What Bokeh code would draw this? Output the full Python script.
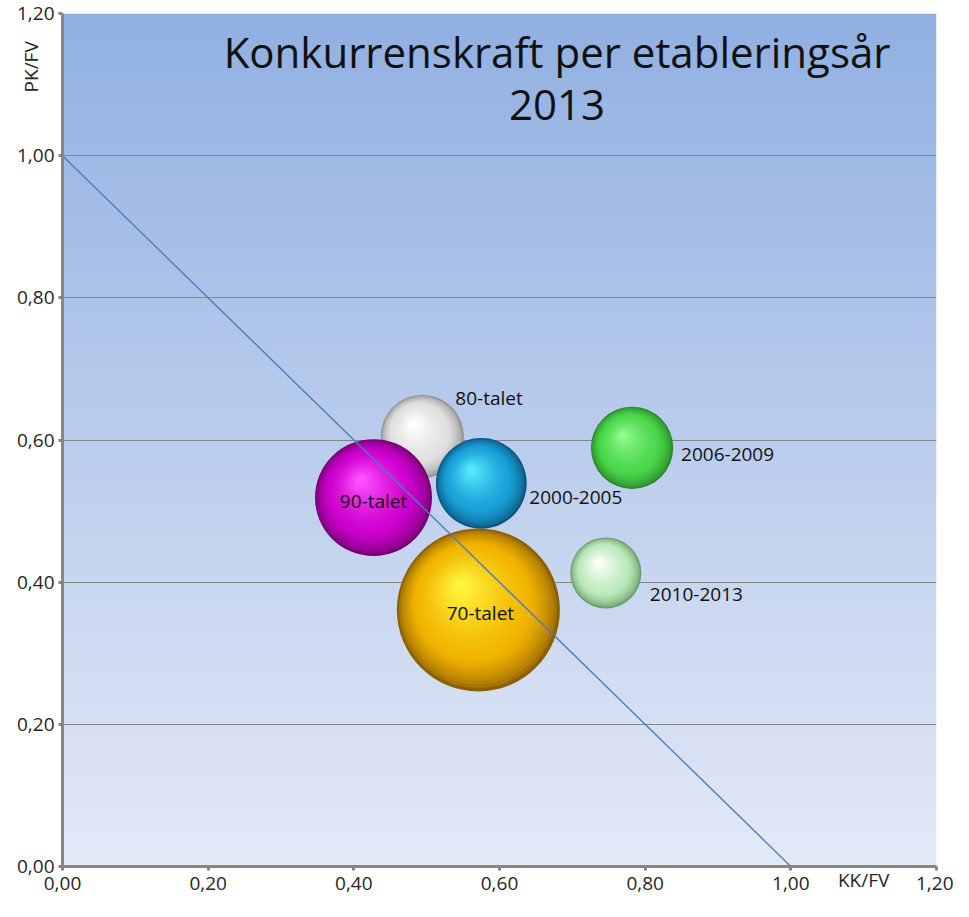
import numpy as np
from bokeh.plotting import figure
from bokeh.models import (ColumnDataSource, Label, FixedTicker, CustomJSTickFormatter,
                          LinearAxis)
from bokeh.embed import file_html
from bokeh.resources import INLINE
from bokeh.core.properties import value

# ---------------- data ----------------
groups = ["80-talet", "90-talet", "2000-2005", "70-talet", "2006-2009", "2010-2013"]
kk_fv = [0.494, 0.427, 0.575, 0.571, 0.782, 0.746]   # x
pk_fv = [0.605, 0.519, 0.539, 0.361, 0.589, 0.413]   # y
bubble_size = [26.0, 51.5, 31.0, 100.0, 25.5, 19.0]  # relative area
ticks = [0.0, 0.2, 0.4, 0.6, 0.8, 1.0, 1.2]
ref_x = [0.0, 1.0]
ref_y = [1.0, 0.0]
title_lines = ["Konkurrenskraft per etableringsår", "2013"]
x_title, y_title = "KK/FV", "PK/FV"
x_title_pos, y_title_pos = 1.10, 1.125

# ---------------- style ----------------
FONT = "Open Sans"
W, H = 953, 901
BL, BR, BT, BB = 62, 17, 13, 35
FW, FH = W - BL - BR, H - BT - BB
PXX, PXY = FW / 1.2, FH / 1.2
MAX_R = 81.5

colors = {
    "70-talet":  dict(edge=(140, 95, 0),   base=(242, 180, 0),   hi=(255, 245, 60)),
    "80-talet":  dict(edge=(145, 145, 145), base=(224, 224, 224), hi=(255, 255, 255)),
    "90-talet":  dict(edge=(115, 0, 115),  base=(205, 0, 205),   hi=(255, 80, 255)),
    "2000-2005": dict(edge=(10, 85, 125),  base=(25, 160, 215),  hi=(85, 235, 255)),
    "2006-2009": dict(edge=(40, 135, 40),  base=(75, 215, 75),   hi=(145, 250, 145)),
    "2010-2013": dict(edge=(105, 155, 105), base=(188, 234, 188), hi=(255, 255, 255)),
}
# label placement (pixels relative to bubble centre, +y is down) and alignment
label_style = {
    "80-talet":  (33, -38, "left"),
    "90-talet":  (0, 3, "center"),
    "2000-2005": (48, 14, "left"),
    "70-talet":  (2, 3, "center"),
    "2006-2009": (49, 7, "left"),
    "2010-2013": (44, 22, "left"),
}


def mix(c1, c2, t):
    return tuple(c1[i] + (c2[i] - c1[i]) * t for i in range(3))


def hexc(c):
    return "#%02x%02x%02x" % tuple(int(round(max(0, min(255, v)))) for v in c)


p = figure(width=W, height=H, x_range=(0, 1.2), y_range=(0, 1.2),
           output_backend="svg", toolbar_location=None,
           min_border_left=BL, min_border_right=BR,
           min_border_top=BT, min_border_bottom=BB)
p.outline_line_color = None
p.background_fill_color = "white"
p.border_fill_color = "white"

# gradient background of the plot area
top_c = np.array([145, 176, 226])
bot_c = np.array([228, 234, 247])
n = 256
img = np.empty((n, 1), dtype=np.uint32)
view = img.view(dtype=np.uint8).reshape((n, 1, 4))
for i in range(n):
    t = i / (n - 1)
    c = bot_c + (top_c - bot_c) * t
    view[i, 0, 0:3] = c.astype(np.uint8)
    view[i, 0, 3] = 255
bg = p.image_rgba(image=[img], x=0, y=0, dw=1.2, dh=1.2)
bg.level = "image"

# grid / axes
p.xgrid.visible = False
p.ygrid.ticker = FixedTicker(ticks=ticks)
p.ygrid.grid_line_color = "#868686"
p.ygrid.grid_line_width = 1

fmt = CustomJSTickFormatter(code="return tick.toFixed(2).replace('.', ',');")
for ax in (p.xaxis[0], p.yaxis[0]):
    ax.ticker = FixedTicker(ticks=ticks)
    ax.formatter = fmt
    ax.axis_line_color = "#868686"
    ax.axis_line_width = 3
    ax.major_tick_line_color = "#868686"
    ax.major_tick_line_width = 3
    ax.major_tick_in = 0
    ax.major_tick_out = 4
    ax.minor_tick_line_color = None
    ax.major_label_text_font = FONT
    ax.major_label_text_font_size = "19px"
    ax.major_label_text_color = "#262626"
p.xaxis[0].major_label_standoff = 6
p.yaxis[0].major_label_standoff = 4

# axis titles placed like Excel's: extra outer axes whose single tick label is pulled
# back (negative standoff) into the tick-label band
ytitle_axis = LinearAxis(ticker=FixedTicker(ticks=[y_title_pos]),
                         formatter=CustomJSTickFormatter(code="return '%s';" % y_title),
                         major_label_orientation="vertical",
                         axis_line_color=None, major_tick_line_color=None,
                         minor_tick_line_color=None, major_tick_out=0, major_tick_in=0,
                         major_label_standoff=-30, major_label_text_font=FONT,
                         major_label_text_font_size="19px", major_label_text_color="#262626")
p.add_layout(ytitle_axis, "left")
xtitle_axis = LinearAxis(ticker=FixedTicker(ticks=[x_title_pos]),
                         formatter=CustomJSTickFormatter(code="return '%s';" % x_title),
                         axis_line_color=None, major_tick_line_color=None,
                         minor_tick_line_color=None, major_tick_out=0, major_tick_in=0,
                         major_label_standoff=-26, major_label_text_font=FONT,
                         major_label_text_font_size="19px", major_label_text_color="#262626")
p.add_layout(xtitle_axis, "below")

# spheres (stacked offset circles imitating 3D shading)
xs, ys, ss, cs = [], [], [], []
N = 30
for g, x, y, s in zip(groups, kk_fv, pk_fv, bubble_size):
    R = MAX_R * np.sqrt(s / 100.0)
    col = colors[g]
    hx, hy = -0.22 * R, 0.30 * R
    for i in range(N):
        t = i / (N - 1)
        r = R * (1 - 0.93 * t)
        xs.append(x + hx * t / PXX)
        ys.append(y + hy * t / PXY)
        ss.append(2 * r)
        if t < 0.3:
            c = mix(col["edge"], col["base"], (t / 0.3) ** 0.6)
        else:
            c = mix(col["base"], col["hi"], ((t - 0.3) / 0.7) ** 1.3)
        cs.append(hexc(c))
src = ColumnDataSource(dict(x=xs, y=ys, size=ss, color=cs))
p.scatter("x", "y", size="size", fill_color="color", line_color=None, source=src)

# reference line
p.line(ref_x, ref_y, line_color="#4a7ebb", line_width=1.4)

# bubble labels
lx, ly, lt, la = [], [], [], []
for g, x, y in zip(groups, kk_fv, pk_fv):
    dx, dy, al = label_style[g]
    lx.append(x + dx / PXX)
    ly.append(y - dy / PXY)
    lt.append(g)
    la.append(al)
lsrc = ColumnDataSource(dict(x=lx, y=ly, text=lt, align=la))
p.text("x", "y", text="text", text_align="align", text_baseline="middle",
       text_font=value(FONT), text_font_size="19px", text_color="#111111", source=lsrc)

# title
p.add_layout(Label(x=0.679, y=1.147, text=title_lines[0], text_align="center",
                   text_baseline="middle", text_font=FONT, text_font_size="42px",
                   text_color="#111111"))
p.add_layout(Label(x=0.679, y=1.071, text=title_lines[1], text_align="center",
                   text_baseline="middle", text_font=FONT, text_font_size="42px",
                   text_color="#111111"))

open("out.html", "w").write(file_html(p, INLINE))
